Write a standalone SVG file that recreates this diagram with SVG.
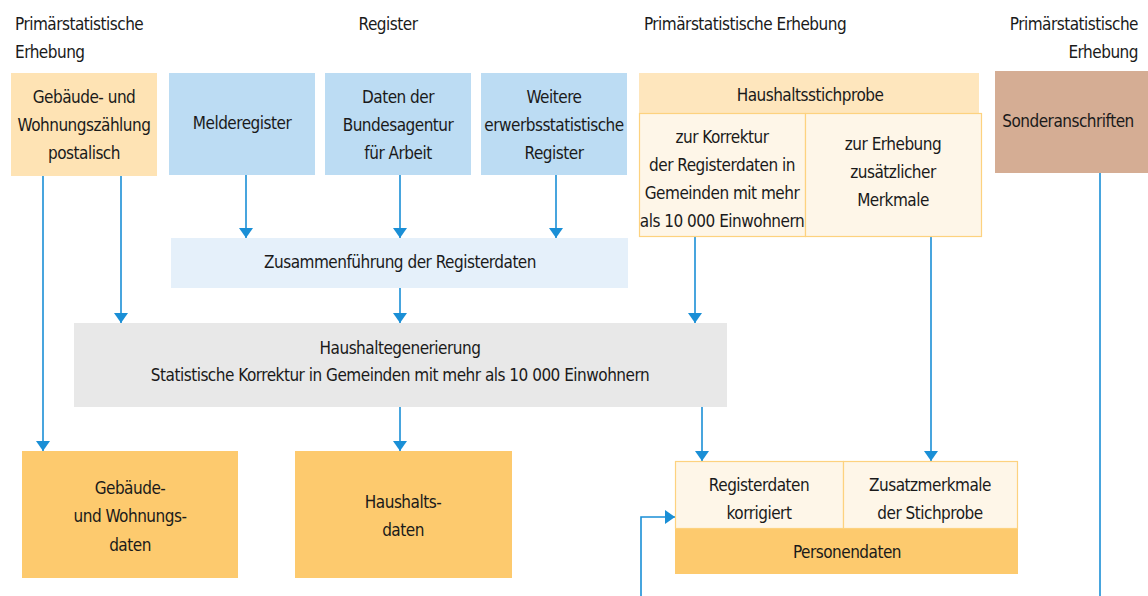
<svg xmlns="http://www.w3.org/2000/svg" width="1148" height="596" viewBox="0 0 1148 596">
<style>
text{font-family:"Liberation Sans Narrow","DejaVu Sans Condensed","Liberation Sans",sans-serif;font-size:17px;letter-spacing:-0.5px;fill:#1a1a1a}
.c{text-anchor:middle}
.r{text-anchor:end}
.ln{stroke:#1a8fd6;stroke-width:1.6;fill:none}
</style>
<defs>
<marker id="ah" viewBox="0 0 10 14" refX="10" refY="7" markerWidth="10" markerHeight="14" markerUnits="userSpaceOnUse" orient="auto">
<path d="M0,0 L10,7 L0,14 Z" fill="#1a8fd6"/>
</marker>
</defs>
<g id="labels">
<text x="15" y="30">Primärstatistische</text>
<text x="15" y="58">Erhebung</text>
<text class="c" x="388" y="30">Register</text>
<text class="c" x="745" y="30">Primärstatistische Erhebung</text>
<text class="r" x="1138" y="30">Primärstatistische</text>
<text class="r" x="1138" y="58">Erhebung</text>
</g>
<g id="connectors">
<path class="ln" d="M43,176 V451" marker-end="url(#ah)"/>
<path class="ln" d="M121,176 V323" marker-end="url(#ah)"/>
<path class="ln" d="M246,175 V238" marker-end="url(#ah)"/>
<path class="ln" d="M400,175 V238" marker-end="url(#ah)"/>
<path class="ln" d="M556,175 V238" marker-end="url(#ah)"/>
<path class="ln" d="M400,288 V323" marker-end="url(#ah)"/>
<path class="ln" d="M695,236 V323" marker-end="url(#ah)"/>
<path class="ln" d="M400,407 V451" marker-end="url(#ah)"/>
<path class="ln" d="M702,407 V461" marker-end="url(#ah)"/>
<path class="ln" d="M931,236 V461" marker-end="url(#ah)"/>
<path class="ln" d="M1100,173 V596"/>
<path class="ln" d="M641,596 V517 H675" marker-end="url(#ah)"/>
</g>
<g id="gwz">
<rect x="11" y="73" width="146" height="103" fill="#fee3b4"/>
<text class="c" x="84" y="103">Gebäude- und</text>
<text class="c" x="84" y="131">Wohnungszählung</text>
<text class="c" x="84" y="159">postalisch</text>
</g>
<g id="melderegister">
<rect x="169" y="73" width="146" height="102" fill="#bcdcf3"/>
<text class="c" x="242" y="129">Melderegister</text>
</g>
<g id="bundesagentur">
<rect x="325" y="73" width="146" height="102" fill="#bcdcf3"/>
<text class="c" x="398" y="103">Daten der</text>
<text class="c" x="398" y="131">Bundesagentur</text>
<text class="c" x="398" y="159">für Arbeit</text>
</g>
<g id="weitere">
<rect x="481" y="73" width="146" height="102" fill="#bcdcf3"/>
<text class="c" x="554" y="103">Weitere</text>
<text class="c" x="554" y="131">erwerbsstatistische</text>
<text class="c" x="554" y="159">Register</text>
</g>
<g id="haushaltsstichprobe">
<rect x="639" y="73" width="340" height="40" fill="#fee6bd"/>
<rect x="639.5" y="113.5" width="166" height="123" fill="#fef6e8" stroke="#fdd27f" stroke-width="1.2"/>
<rect x="805.5" y="113.5" width="176" height="123" fill="#fef6e8" stroke="#fdd27f" stroke-width="1.2"/>
<text class="c" x="810" y="101">Haushaltsstichprobe</text>
<text class="c" x="722" y="143">zur Korrektur</text>
<text class="c" x="722" y="171">der Registerdaten in</text>
<text class="c" x="722" y="199">Gemeinden mit mehr</text>
<text class="c" x="722" y="227">als 10 000 Einwohnern</text>
<text class="c" x="893" y="150">zur Erhebung</text>
<text class="c" x="893" y="178">zusätzlicher</text>
<text class="c" x="893" y="206">Merkmale</text>
</g>
<g id="sonderanschriften">
<rect x="995" y="71" width="153" height="102" fill="#d5ad94"/>
<text class="c" x="1068" y="127">Sonderanschriften</text>
</g>
<g id="zusammenfuehrung">
<rect x="171" y="238" width="457" height="50" fill="#e5f0fa"/>
<text class="c" x="400" y="268">Zusammenführung der Registerdaten</text>
</g>
<g id="haushaltegenerierung">
<rect x="74" y="323" width="653" height="84" fill="#e8e8e8"/>
<text class="c" x="400" y="354">Haushaltegenerierung</text>
<text class="c" x="400" y="381">Statistische Korrektur in Gemeinden mit mehr als 10 000 Einwohnern</text>
</g>
<g id="gwdaten">
<rect x="22" y="451" width="216" height="127" fill="#fdca6e"/>
<text class="c" x="130" y="494">Gebäude-</text>
<text class="c" x="130" y="522">und Wohnungs-</text>
<text class="c" x="130" y="551">daten</text>
</g>
<g id="haushaltsdaten">
<rect x="295" y="451" width="217" height="127" fill="#fdca6e"/>
<text class="c" x="403" y="508">Haushalts-</text>
<text class="c" x="403" y="536">daten</text>
</g>
<g id="personendaten">
<rect x="675" y="528" width="343" height="46" fill="#fdca6e"/>
<rect x="675.5" y="461.5" width="168" height="67" fill="#fef6e8" stroke="#fdd27f" stroke-width="1.2"/>
<rect x="843.5" y="461.5" width="174" height="67" fill="#fef6e8" stroke="#fdd27f" stroke-width="1.2"/>
<text class="c" x="759" y="491">Registerdaten</text>
<text class="c" x="759" y="519">korrigiert</text>
<text class="c" x="930" y="491">Zusatzmerkmale</text>
<text class="c" x="930" y="519">der Stichprobe</text>
<text class="c" x="847" y="558">Personendaten</text>
</g>
</svg>
